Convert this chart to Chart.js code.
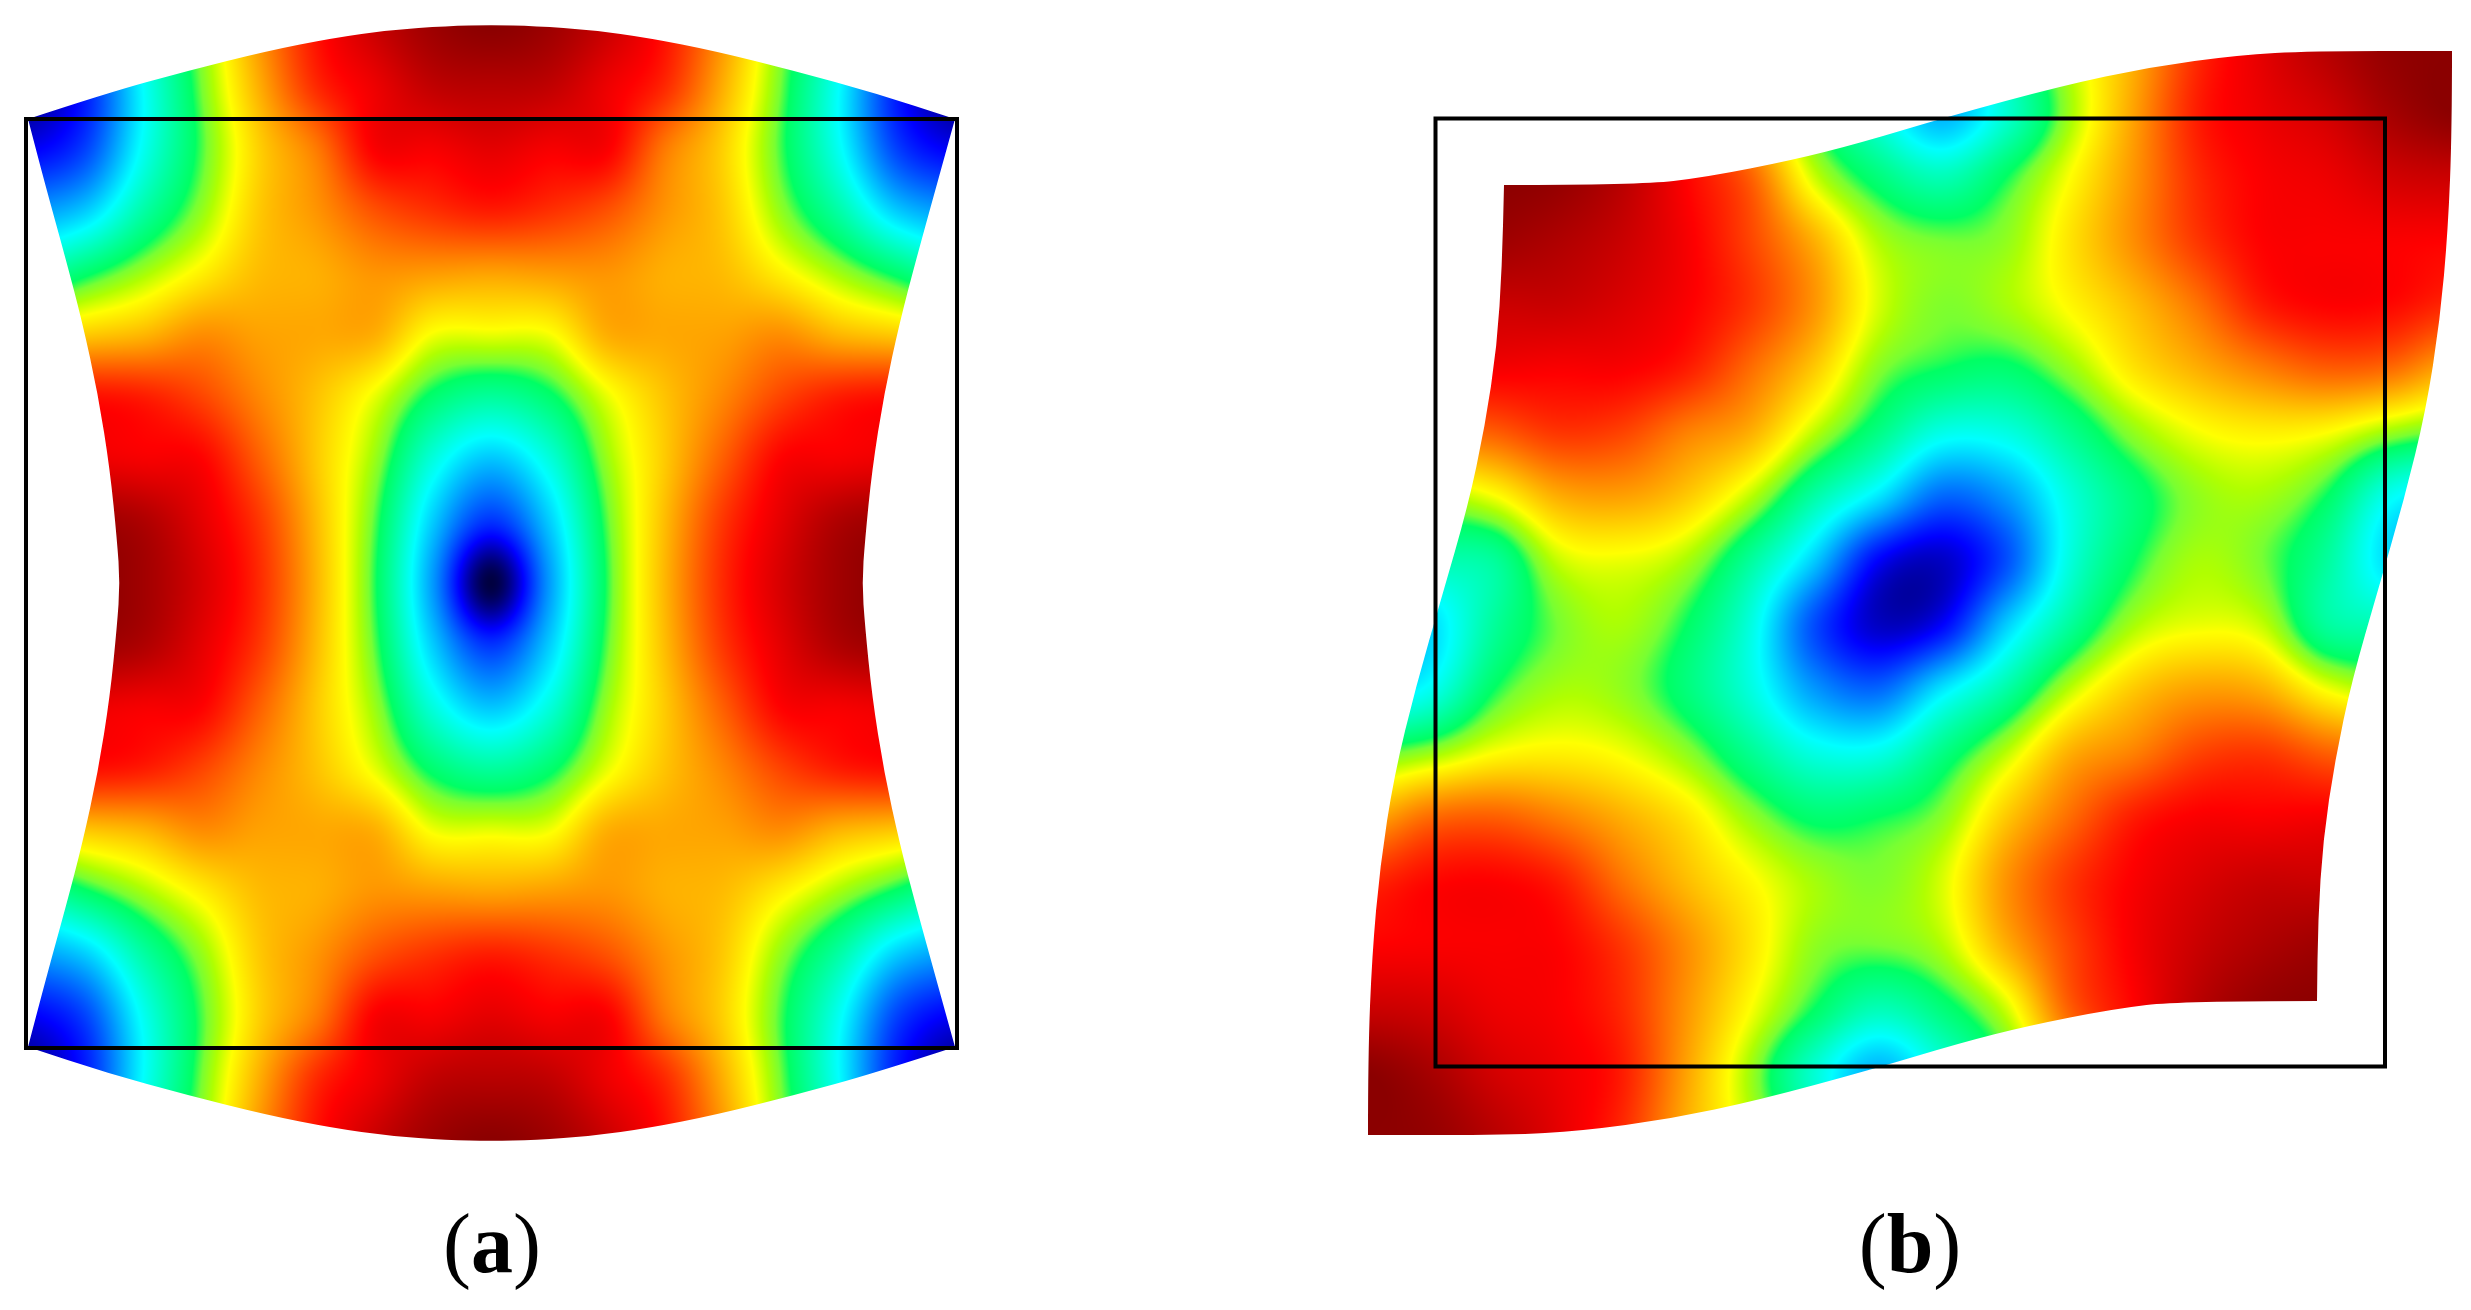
<!DOCTYPE html>
<html>
<head>
<meta charset="utf-8">
<title>Mode shapes</title>
<script src="https://cdn.jsdelivr.net/npm/chart.js@4/dist/chart.umd.min.js"></script>
<style>
  html, body { margin: 0; padding: 0; background: #fff; }
  #wrap { position: relative; width: 2471px; height: 1310px; overflow: hidden; }
  #plot { position: absolute; left: 0; top: 0; }
  .caption { position: absolute; top: 1202px; font: 84px/84px "Liberation Serif", serif; color: #000; transform: translateX(-50%); white-space: nowrap; }
</style>
</head>
<body>
<div id="wrap">
  <canvas id="plot" width="2471" height="1310"></canvas>
  <div class="caption" style="left:492px">(<b>a</b>)</div>
  <div class="caption" style="left:1910px">(<b>b</b>)</div>
</div>
<script>
// node values are read as a position along the colour bar (readStops),
// levelStops is where those colours really sit on an even jet scale
const readStops = [0, 0.13, 0.33, 0.47, 0.53, 0.60, 0.68, 0.775, 0.87, 1];
const levelStops = [0, 0.125, 0.375, 0.525, 0.554, 0.587, 0.625, 0.75, 0.875, 1];
const colorRed = [0, 0, 0, 0, 120, 176, 255, 255, 255, 139];
const colorGreen = [0, 0, 255, 255, 255, 255, 255, 128, 0, 0];
const colorBlue = [64, 255, 255, 100, 50, 0, 0, 0, 0, 0];

const gridAX = [27, 85, 143, 201, 259, 317, 375, 433, 491, 549, 607, 665, 723, 781, 839, 897, 955];
const gridAY = [25, 87, 149, 211, 273, 335, 397, 459, 521, 583, 645, 707, 769, 831, 893, 955, 1017, 1079, 1141];
const valuesA = [
  [.08, .2, .38, .56, .76, .86, .93, .98, 1, .98, .93, .86, .76, .56, .38, .2, .08],
  [.05, .15, .33, .525, .74, .84, .89, .94, .95, .94, .89, .84, .74, .525, .33, .15, .05],
  [.12, .18, .34, .50, .715, .78, .875, .88, .90, .88, .875, .78, .715, .50, .34, .18, .12],
  [.25, .29, .41, .56, .72, .76, .81, .835, .85, .835, .81, .76, .72, .56, .41, .29, .25],
  [.40, .46, .58, .69, .73, .74, .76, .755, .75, .755, .76, .74, .73, .69, .58, .46, .40],
  [.70, .72, .735, .765, .75, .745, .74, .67, .657, .67, .74, .745, .75, .765, .735, .72, .70],
  [.86, .86, .85, .82, .77, .725, .655, .46, .42, .46, .655, .725, .77, .82, .85, .86, .86],
  [.89, .89, .88, .87, .80, .72, .57, .36, .285, .36, .57, .72, .80, .87, .88, .89, .89],
  [.98, .98, .96, .90, .83, .73, .51, .29, .17, .29, .51, .73, .83, .90, .96, .98, .98],
  [1, 1, .975, .915, .84, .735, .485, .25, 0, .25, .485, .735, .84, .915, .975, 1, 1],
  [.98, .98, .96, .90, .83, .73, .51, .29, .17, .29, .51, .73, .83, .90, .96, .98, .98],
  [.89, .89, .88, .87, .80, .72, .57, .36, .285, .36, .57, .72, .80, .87, .88, .89, .89],
  [.86, .86, .85, .82, .77, .725, .655, .46, .42, .46, .655, .725, .77, .82, .85, .86, .86],
  [.70, .72, .735, .765, .75, .745, .74, .67, .657, .67, .74, .745, .75, .765, .735, .72, .70],
  [.40, .46, .58, .69, .73, .74, .76, .755, .75, .755, .76, .74, .73, .69, .58, .46, .40],
  [.25, .29, .41, .56, .72, .76, .81, .835, .85, .835, .81, .76, .72, .56, .41, .29, .25],
  [.12, .18, .34, .50, .715, .78, .875, .88, .90, .88, .875, .78, .715, .50, .34, .18, .12],
  [.05, .15, .33, .525, .74, .84, .89, .94, .95, .94, .89, .84, .74, .525, .33, .15, .05],
  [.08, .2, .38, .56, .76, .86, .93, .98, 1, .98, .93, .86, .76, .56, .38, .2, .08]
];

const gridBX = [1366, 1430, 1494, 1558, 1622, 1686, 1750, 1814, 1878, 1942, 2006, 2070, 2134, 2198, 2262, 2326, 2390, 2454];
const gridBY = [49, 113, 177, 241, 305, 369, 433, 497, 561, 625, 689, 753, 817, 881, 945, 1009, 1073, 1137];
const valuesB = [
  [1, 1, 1, 1, .95, .84, .62, .47, .38, .30, .42, .62, .74, .84, .90, .95, .99, 1],
  [1, 1, 1, 1, .97, .87, .72, .48, .36, .27, .37, .58, .75, .85, .89, .92, .97, 1],
  [1, 1, 1, .99, .95, .87, .80, .63, .45, .395, .47, .68, .76, .84, .875, .89, .92, .93],
  [1, 1, .98, .96, .93, .88, .82, .74, .60, .53, .56, .70, .765, .83, .87, .875, .875, .87],
  [.95, .95, .93, .93, .91, .875, .83, .76, .64, .54, .585, .685, .73, .785, .85, .87, .865, .84],
  [.88, .88, .88, .875, .875, .85, .79, .72, .55, .47, .46, .565, .70, .74, .775, .80, .79, .74],
  [.78, .78, .80, .83, .82, .775, .74, .61, .44, .35, .355, .43, .56, .67, .69, .68, .57, .5],
  [.58, .58, .67, .74, .75, .72, .61, .41, .31, .21, .25, .36, .45, .56, .585, .47, .34, .3],
  [.40, .40, .42, .62, .66, .59, .42, .29, .13, .09, .19, .36, .47, .59, .53, .42, .3, .25],
  [.25, .3, .42, .53, .59, .47, .36, .19, .09, .13, .29, .42, .59, .66, .62, .42, .40, .40],
  [.3, .34, .47, .585, .56, .45, .36, .25, .21, .31, .41, .61, .72, .75, .74, .67, .58, .58],
  [.5, .57, .68, .69, .67, .56, .43, .355, .35, .44, .61, .74, .775, .82, .83, .80, .78, .78],
  [.74, .79, .80, .775, .74, .70, .565, .46, .47, .55, .72, .79, .85, .875, .875, .88, .88, .88],
  [.84, .865, .87, .85, .785, .73, .685, .585, .54, .64, .76, .83, .875, .91, .93, .93, .95, .95],
  [.87, .875, .875, .87, .83, .765, .70, .56, .53, .60, .74, .82, .88, .93, .96, .98, 1, 1],
  [.93, .92, .89, .875, .84, .76, .68, .47, .395, .45, .63, .80, .87, .95, .99, 1, 1, 1],
  [1, .97, .92, .89, .85, .75, .58, .37, .27, .36, .48, .72, .87, .97, 1, 1, 1, 1],
  [1, .99, .95, .90, .84, .74, .62, .42, .30, .38, .47, .62, .84, .95, 1, 1, 1, 1]
];

// deformed outlines, one list per side
const edgesA = [
  [[28, 119], [107, 93], [187, 71], [267, 51], [333, 38], [390, 30], [447, 26], [491, 25], [535, 26], [592, 30], [649, 38], [715, 51], [795, 71], [875, 93], [955, 119]],
  [[955, 119], [937, 184], [916, 260], [900, 321], [884, 394], [872, 470], [865, 540], [862, 583], [865, 626], [872, 696], [884, 772], [900, 845], [916, 906], [937, 982], [955, 1047]],
  [[955, 1047], [875, 1073], [795, 1095], [715, 1115], [649, 1128], [592, 1136], [535, 1140], [491, 1141], [447, 1140], [390, 1136], [333, 1128], [267, 1115], [187, 1095], [107, 1073], [28, 1047]],
  [[28, 1047], [45, 982], [66, 906], [82, 845], [98, 772], [110, 696], [117, 626], [120, 583], [117, 540], [110, 470], [98, 394], [82, 321], [66, 260], [45, 184], [28, 119]]
];
const edgesB = [
  [[1504, 185], [1640, 185], [1707, 177], [1793, 160], [1860, 143], [1950, 116], [2061, 86], [2150, 67], [2239, 55], [2311, 51], [2452, 51]],
  [[2452, 51], [2452, 130], [2448, 230], [2440, 320], [2426, 410], [2404, 500], [2378, 590], [2352, 680], [2335, 760], [2323, 840], [2318, 920], [2317, 1001]],
  [[2317, 1001], [2180, 1001], [2113, 1009], [2027, 1026], [1960, 1043], [1870, 1070], [1759, 1100], [1670, 1119], [1581, 1131], [1509, 1135], [1368, 1135]],
  [[1368, 1135], [1368, 1056], [1372, 956], [1380, 866], [1394, 776], [1416, 686], [1442, 596], [1468, 506], [1485, 426], [1497, 346], [1502, 266], [1504, 185]]
];

const boxAX = [26, 957, 957, 26, 26];
const boxAY = [119, 119, 1048, 1048, 119];
const boxBX = [1435.5, 2385, 2385, 1435.5, 1435.5];
const boxBY = [118.5, 118.5, 1066.5, 1066.5, 118.5];

function toLevel(v) {
    let i = 0;
    while (i < readStops.length - 2 && v > readStops[i + 1]) i++;
    const t = (v - readStops[i]) / (readStops[i + 1] - readStops[i]);
    return levelStops[i] + (levelStops[i + 1] - levelStops[i]) * t;
}

function toColor(v) {
    v = Math.max(0, Math.min(1, v));
    let i = 0;
    while (i < levelStops.length - 2 && v > levelStops[i + 1]) i++;
    const t = (v - levelStops[i]) / (levelStops[i + 1] - levelStops[i]);
    return [
        colorRed[i] + (colorRed[i + 1] - colorRed[i]) * t,
        colorGreen[i] + (colorGreen[i + 1] - colorGreen[i]) * t,
        colorBlue[i] + (colorBlue[i + 1] - colorBlue[i]) * t
    ];
}

function spline(a, b, c, d, t) {
    return b + 0.5 * t * (c - a + t * (2 * a - 5 * b + 4 * c - d + t * (3 * (b - c) + d - a)));
}

function locate(grid, v) {
    const step = grid[1] - grid[0];
    const pos = Math.max(0, Math.min(grid.length - 1.001, (v - grid[0]) / step));
    const i = Math.floor(pos);
    return [i, pos - i];
}

// smooth shading between the read nodes
function sampleField(levels, ix, tx, iy, ty) {
    const rows = [];
    for (let r = -1; r <= 2; r++) {
        const row = levels[Math.max(0, Math.min(levels.length - 1, iy + r))];
        const last = row.length - 1;
        rows.push(spline(row[Math.max(0, ix - 1)], row[ix], row[Math.min(last, ix + 1)], row[Math.min(last, ix + 2)], tx));
    }
    return spline(rows[0], rows[1], rows[2], rows[3], ty);
}

function drawField(chart, panel) {
    const xScale = chart.scales.x;
    const yScale = chart.scales.y;
    const ctx = chart.ctx;
    const levels = panel.values.map(row => row.map(toLevel));
    const left = Math.floor(xScale.getPixelForValue(panel.gridX[0]));
    const right = Math.ceil(xScale.getPixelForValue(panel.gridX[panel.gridX.length - 1]));
    const top = Math.floor(yScale.getPixelForValue(panel.gridY[0]));
    const bottom = Math.ceil(yScale.getPixelForValue(panel.gridY[panel.gridY.length - 1]));
    const off = document.createElement('canvas');
    off.width = right - left;
    off.height = bottom - top;
    const offCtx = off.getContext('2d');
    const img = offCtx.createImageData(off.width, off.height);
    for (let py = 0; py < off.height; py++) {
        const [iy, ty] = locate(panel.gridY, yScale.getValueForPixel(top + py + 0.5));
        for (let px = 0; px < off.width; px++) {
            const [ix, tx] = locate(panel.gridX, xScale.getValueForPixel(left + px + 0.5));
            const c = toColor(sampleField(levels, ix, tx, iy, ty));
            const k = (py * off.width + px) * 4;
            img.data[k] = c[0];
            img.data[k + 1] = c[1];
            img.data[k + 2] = c[2];
            img.data[k + 3] = 255;
        }
    }
    offCtx.putImageData(img, 0, 0);

    ctx.save();
    ctx.beginPath();
    panel.edges.forEach((edge, e) => {
        const pts = edge.map(p => [xScale.getPixelForValue(p[0]), yScale.getPixelForValue(p[1])]);
        if (e === 0) ctx.moveTo(pts[0][0], pts[0][1]);
        else ctx.lineTo(pts[0][0], pts[0][1]);
        for (let i = 1; i < pts.length - 1; i++) {
            const midX = (pts[i][0] + pts[i + 1][0]) / 2;
            const midY = (pts[i][1] + pts[i + 1][1]) / 2;
            ctx.quadraticCurveTo(pts[i][0], pts[i][1], midX, midY);
        }
        ctx.lineTo(pts[pts.length - 1][0], pts[pts.length - 1][1]);
    });
    ctx.closePath();
    ctx.clip();
    ctx.drawImage(off, left, top);
    ctx.restore();
}

const fieldPlugin = {
    id: 'field',
    beforeDatasetsDraw(chart) {
        drawField(chart, { gridX: gridAX, gridY: gridAY, values: valuesA, edges: edgesA });
        drawField(chart, { gridX: gridBX, gridY: gridBY, values: valuesB, edges: edgesB });
    }
};

function boxData(xs, ys) {
    return xs.map((x, i) => ({ x: x, y: ys[i] }));
}

new Chart(document.getElementById('plot'), {
    type: 'scatter',
    data: {
        datasets: [
            { label: 'a', data: boxData(boxAX, boxAY), showLine: true, borderColor: '#000', borderWidth: 4, pointRadius: 0, borderJoinStyle: 'miter', borderCapStyle: 'square' },
            { label: 'b', data: boxData(boxBX, boxBY), showLine: true, borderColor: '#000', borderWidth: 4, pointRadius: 0, borderJoinStyle: 'miter', borderCapStyle: 'square' }
        ]
    },
    options: {
        responsive: false,
        animation: false,
        layout: { padding: 0 },
        plugins: { legend: { display: false }, tooltip: { enabled: false } },
        scales: {
            x: { type: 'linear', min: 0, max: 2471, display: false },
            y: { type: 'linear', min: 0, max: 1310, reverse: true, display: false }
        }
    },
    plugins: [fieldPlugin]
});
</script>
</body>
</html>
